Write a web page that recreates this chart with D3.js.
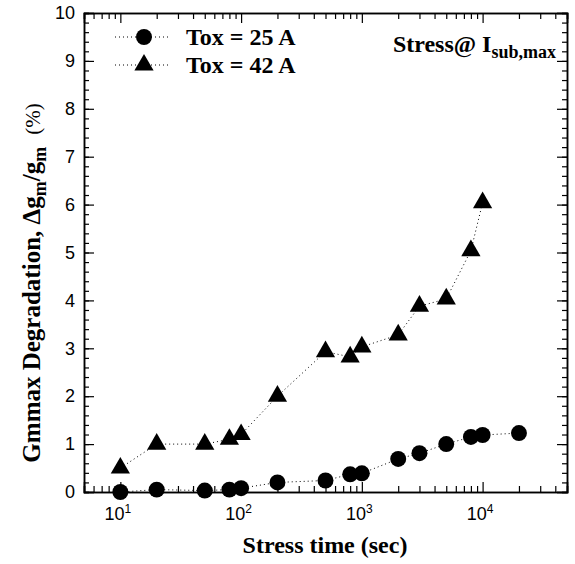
<!DOCTYPE html>
<html>
<head>
<meta charset="utf-8">
<script src="https://cdnjs.cloudflare.com/ajax/libs/d3/7.8.5/d3.min.js"></script>
<style>
  body { margin: 0; background: #fff; }
  svg { display: block; }
  .tick text { font-family: "Liberation Sans", Arial, sans-serif; font-size: 18px; fill: #000; }
</style>
</head>
<body>
<div id="chart"></div>
<script>
// stress time (sec)
const times25 = [10, 20, 50, 80, 100, 200, 500, 800, 1000, 2000, 3000, 5000, 8000, 10000, 20000]
const tox25 = [0.0, 0.05, 0.03, 0.05, 0.08, 0.2, 0.24, 0.37, 0.39, 0.69, 0.81, 1.0, 1.15, 1.19, 1.23]
const times42 = [10, 20, 50, 80, 100, 200, 500, 800, 1000, 2000, 3000, 5000, 8000, 10000]
const tox42 = [0.5, 1.0, 1.0, 1.1, 1.2, 2.0, 2.93, 2.82, 3.03, 3.28, 3.88, 4.03, 5.04, 6.04]
const yTicks = [0, 1, 2, 3, 4, 5, 6, 7, 8, 9, 10]
const xMajor = [10, 100, 1000, 10000]
const xMinor = [5, 6, 7, 8, 9, 20, 30, 40, 50, 60, 70, 80, 90, 200, 300, 400, 500, 600, 700, 800, 900,
  2000, 3000, 4000, 5000, 6000, 7000, 8000, 9000, 20000, 30000, 40000, 50000]

const width = 575
const height = 564
const plotLeft = 84, plotRight = 567, plotTop = 13, plotBottom = 492

const svg = d3.select("#chart").append("svg")
  .attr("width", width)
  .attr("height", height)

const x = d3.scaleLog().domain([5, 50000]).range([plotLeft, plotRight])
const y = d3.scaleLinear().domain([0, 10]).range([plotBottom, plotTop])

const yMinor = d3.range(0, 10.01, 0.2)

// bottom axis
const gx = svg.append("g").attr("transform", `translate(0,${plotBottom})`)
gx.call(d3.axisBottom(x).tickValues(xMajor).tickSize(-10).tickFormat(""))
gx.selectAll(".tick").append("text")
  .attr("y", 28)
  .attr("text-anchor", "middle")
  .attr("dx", "-3")
  .attr("font-family", "Liberation Sans, Arial, sans-serif")
  .attr("font-size", 18)
  .each(function (d) {
    const t = d3.select(this)
    t.append("tspan").text("10")
    t.append("tspan").attr("font-size", 12).attr("dy", -7).text(Math.round(Math.log10(d)))
  })
svg.append("g").attr("transform", `translate(0,${plotBottom})`)
  .call(d3.axisBottom(x).tickValues(xMinor).tickSize(-6).tickFormat(""))

// top axis
svg.append("g").attr("transform", `translate(0,${plotTop})`)
  .call(d3.axisTop(x).tickValues(xMajor).tickSize(-10).tickFormat(""))
svg.append("g").attr("transform", `translate(0,${plotTop})`)
  .call(d3.axisTop(x).tickValues(xMinor).tickSize(-6).tickFormat(""))

// left axis
svg.append("g").attr("transform", `translate(${plotLeft},0)`)
  .call(d3.axisLeft(y).tickValues(yTicks).tickSize(-10).tickPadding(9).tickFormat(d3.format("d")))
svg.append("g").attr("transform", `translate(${plotLeft},0)`)
  .call(d3.axisLeft(y).tickValues(yMinor).tickSize(-5).tickFormat(""))

// right axis
svg.append("g").attr("transform", `translate(${plotRight},0)`)
  .call(d3.axisRight(y).tickValues(yTicks).tickSize(-10).tickFormat(""))
svg.append("g").attr("transform", `translate(${plotRight},0)`)
  .call(d3.axisRight(y).tickValues(yMinor).tickSize(-5).tickFormat(""))

svg.selectAll(".domain").attr("stroke", "#000").attr("stroke-width", 1.5)
svg.selectAll(".tick line").attr("stroke", "#000").attr("stroke-width", 1.2)

// lines
const line = d3.line().x(d => x(d[0])).y(d => y(d[1]))
const data25 = times25.map((t, i) => [t, tox25[i]])
const data42 = times42.map((t, i) => [t, tox42[i]])

svg.append("path").datum(data25).attr("d", line)
  .attr("fill", "none").attr("stroke", "#000").attr("stroke-width", 1).attr("stroke-dasharray", "1,3")
svg.append("path").datum(data42).attr("d", line)
  .attr("fill", "none").attr("stroke", "#000").attr("stroke-width", 1).attr("stroke-dasharray", "1,3")

const circle = d3.symbol().type(d3.symbolCircle).size(200)
const triangle = d3.symbol().type(d3.symbolTriangle).size(160)

svg.selectAll(".c25").data(data25).enter().append("path")
  .attr("class", "c25")
  .attr("d", circle)
  .attr("transform", d => `translate(${x(d[0])},${y(d[1])})`)
  .attr("fill", "#000")

svg.selectAll(".t42").data(data42).enter().append("path")
  .attr("class", "t42")
  .attr("d", triangle)
  .attr("transform", d => `translate(${x(d[0])},${y(d[1])})`)
  .attr("fill", "#000")

// legend
const serif = "Liberation Serif, Times New Roman, serif"
const legend = [
  { label: "Tox = 25 A", sym: circle, yy: 37 },
  { label: "Tox = 42 A", sym: triangle, yy: 65 }
]
legend.forEach(l => {
  svg.append("line").attr("x1", 115).attr("x2", 170).attr("y1", l.yy).attr("y2", l.yy)
    .attr("stroke", "#000").attr("stroke-dasharray", "1,3")
  svg.append("path").attr("d", l.sym).attr("transform", `translate(144,${l.yy})`).attr("fill", "#000")
  svg.append("text").attr("x", 186).attr("y", l.yy + 8)
    .attr("font-family", serif).attr("font-weight", "bold").attr("font-size", 24)
    .text(l.label)
})

// annotation
const ann = svg.append("text").attr("x", 556).attr("y", 52).attr("text-anchor", "end")
  .attr("font-family", serif).attr("font-weight", "bold").attr("font-size", 24)
ann.append("tspan").text("Stress@ I")
ann.append("tspan").attr("font-size", 18).attr("dy", 6).text("sub,max")

// x title
svg.append("text").attr("x", 325).attr("y", 553).attr("text-anchor", "middle")
  .attr("font-family", serif).attr("font-weight", "bold").attr("font-size", 24)
  .text("Stress time (sec)")

// y title
const yt = svg.append("text").attr("transform", "translate(40,283) rotate(-90)")
  .attr("text-anchor", "middle")
  .attr("font-family", serif).attr("font-weight", "bold").attr("font-size", 25)
yt.append("tspan").text("Gmmax Degradation, Δg")
yt.append("tspan").attr("font-size", 18).attr("dy", 6).text("m")
yt.append("tspan").attr("dy", -6).text("/g")
yt.append("tspan").attr("font-size", 18).attr("dy", 6).text("m")
yt.append("tspan").attr("dy", -6).attr("dx", 12).attr("font-weight", "normal").attr("font-size", 21).text("(%)")
</script>
</body>
</html>
